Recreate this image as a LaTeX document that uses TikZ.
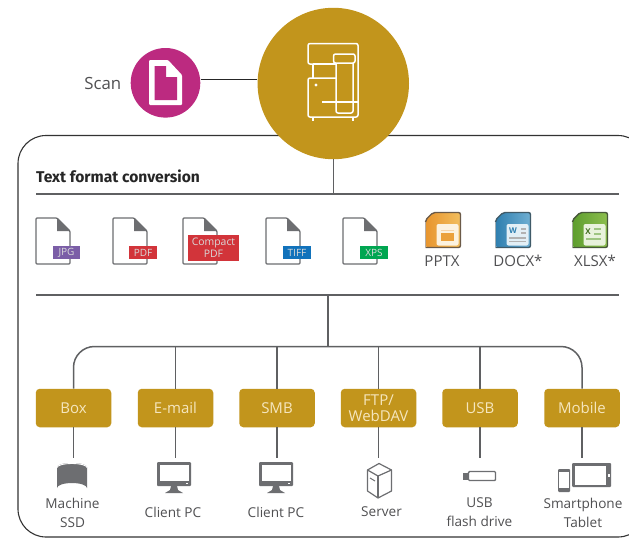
\documentclass[tikz,border=0pt]{standalone}
\usepackage{fontspec}
\setmainfont{Open Sans}
\newfontfamily\titlefont{Fira Sans}
\newcommand{\sv}{\vphantom{A}}
\definecolor{gold}{HTML}{C2951C}
\definecolor{magenta2}{HTML}{BC2A80}
\definecolor{cream}{HTML}{F5E6BE}
\definecolor{linegrey}{HTML}{5F6062}
\definecolor{icongrey}{HTML}{6D6E71}
\definecolor{txtgrey}{HTML}{505052}
\definecolor{tagpurple}{HTML}{7B5EA7}
\definecolor{tagred}{HTML}{D2343A}
\definecolor{tagblue}{HTML}{1172BB}
\definecolor{taggreen}{HTML}{00A651}
\definecolor{oa}{HTML}{E8952E}\definecolor{ob}{HTML}{F2BE5E}\definecolor{od}{HTML}{6B5A48}
\definecolor{ba}{HTML}{2F7FB0}\definecolor{bb}{HTML}{6FAFD2}\definecolor{bd}{HTML}{3F5A68}
\definecolor{ga}{HTML}{5E9E2E}\definecolor{gb}{HTML}{8CBE4E}\definecolor{gd}{HTML}{47583A}
\tikzset{
  conn/.style={draw=linegrey,line width=1.5pt},
  thinconn/.style={draw=black!85,line width=1pt},
  goldbox/.style={fill=gold,rounded corners=4pt,minimum width=75.5pt,minimum height=38.5pt,inner sep=0pt,align=center,text=cream,font=\fontsize{15}{16}\selectfont},
  lbl/.style={text=txtgrey,align=center,inner sep=0pt,font=\fontsize{13.6}{19}\selectfont},
  officelbl/.style={lbl,font=\fontsize{15}{18}\selectfont},
  tag/.style={inner sep=0pt,text=white!85!black,align=center,font=\fontsize{10}{11}\selectfont},
  whiteline/.style={draw=white,line width=1.5pt,rounded corners=2pt},
  fileicon/.pic={
    \draw[draw=icongrey,line width=1.3pt,fill=white,rounded corners=1pt,line join=round] (0,0) -- (21,0) -- (34,13) -- (34,46) -- (0,46) -- cycle;
    \fill[icongrey] (21,0) -- (34,13) -- (21,13) -- cycle;
  },
  monitor/.pic={
    \fill[icongrey,rounded corners=1pt] (0,0) rectangle (34,24);
    \fill[white] (2.5,2.5) rectangle (31.5,19);
    \fill[white] (29,21) rectangle (31,22.4);
    \fill[icongrey] (14,24) -- (20,24) -- (21,28) -- (26,31) -- (8,31) -- (13,28) -- cycle;
  },
  officeicon/.pic={
    \path[left color=tintA,right color=tintB,rounded corners=2pt] (8,0.5) -- (35.5,0.5) -- (35.5,35.5) -- (2,35.5) -- (0.5,34) -- (0.5,8) -- cycle;
    \draw[draw=tintD,line width=1.4pt,rounded corners=2pt] (0.5,10) -- (0.5,8) -- (8,0.5) -- (35.5,0.5) -- (35.5,35.5) -- (0.5,35.5);
    \draw[draw=tintD!50,line width=.8pt] (0.5,10) -- (0.5,35.5);
    \fill[white!80!tintB,rounded corners=2pt] (11.5,12) rectangle (33.5,33.5);
  },
}
\begin{document}
\begin{tikzpicture}[x=1pt,y=-1pt]
\useasboundingbox (0,0) rectangle (629,538);
\fill[white] (0,0) rectangle (629,538);
% outer frame
\begin{scope}
\clip (0,0) rectangle (629,538);
\draw[draw=black!80,line width=1.1pt,rounded corners=28pt] (18,135.5) rectangle (646,537);
\end{scope}
% section rules
\coordinate (r1a) at (36,194);
\coordinate (r1b) at (619,194);
\coordinate (r2a) at (36,295);
\coordinate (r2b) at (619,295);
\draw[conn] (r1a) -- (r1b);
\draw[conn] (r2a) -- (r2b);
% circles
\node[circle,fill=gold,minimum size=151.4pt,inner sep=0pt] (main) at (333.3,83.5) {};
\node[circle,fill=magenta2,minimum size=69.6pt,inner sep=0pt] (scan) at (165.5,82.8) {};
\node[lbl,anchor=east,font=\fontsize{16.8}{18}\selectfont] (scanlbl) at (121.5,83) {Scan};
\draw[thinconn] (scan.east |- 0,79.7) -- (main.west |- 0,79.7);
\draw[conn] (main.south) -- (main.south |- r1a);
% doc icon on magenta
\fill[white,rounded corners=1pt] (149,60) -- (168,60) -- (182,75) -- (182,105) -- (149,105) -- cycle;
\fill[magenta2] (154.5,66) -- (166,66) -- (166,77) -- (177,77) -- (177,100) -- (154.5,100) -- cycle;
% device icon
\begin{scope}[line width=1.4pt]
\draw[whiteline] (313,64) -- (308,64) -- (308,43.5) -- (358,43.5) -- (358,117) -- (308,117) -- (308,78) -- (336,78);
\draw[whiteline] (313,64) -- (336,64);
\draw[draw=white,line width=1.4pt] (313,64) -- (313,78);
\draw[whiteline] (336,63) -- (333.5,63) -- (333.5,54) -- (355,54) -- (355,63) -- (336,63);
\draw[whiteline] (336,63) -- (336,113) -- (353,113) -- (353,63);
\draw[draw=white,line width=1.4pt] (322,102) -- (358,102);
\draw[draw=white,line width=1.4pt] (313,117) -- (313,121);
\draw[draw=white,line width=1.4pt] (353,117) -- (353,121);
\fill[white] (316,85) circle (1.6);
\end{scope}
% heading
\node[anchor=west,inner sep=0pt,text=black!85,font=\titlefont\bfseries\fontsize{15.6}{18}\selectfont] (title) at (36,176) {Text format conversion};
% file icons
\pic at (36,218) {fileicon};
\pic at (113,218) {fileicon};
\pic at (183,218) {fileicon};
\pic at (266,218) {fileicon};
\pic at (343,218) {fileicon};
\node[tag,fill=tagpurple,minimum width=27pt,minimum height=13pt] (jpg) at (66.5,252.5) {JPG\sv};
\node[tag,fill=tagred,minimum width=28pt,minimum height=13pt] (pdf) at (143,252.5) {PDF\sv};
\node[tag,fill=tagred,minimum width=51.5pt,minimum height=26pt,font=\fontsize{10.4}{12}\selectfont] (cpdf) at (213.5,248) {Compact\\PDF};
\node[tag,fill=tagblue,minimum width=27.5pt,minimum height=13pt] (tiff) at (297,252.5) {TIFF\sv};
\node[tag,fill=taggreen,minimum width=28pt,minimum height=13pt] (xps) at (374,252.5) {XPS\sv};
% office icons
\colorlet{tintA}{oa}\colorlet{tintB}{ob}\colorlet{tintD}{od}
\pic at (425,212) {officeicon};
\fill[oa!70!ob] (441,233) rectangle (454,241);
\fill[white!60!oa] (441,229.5) rectangle (454,231);
\colorlet{tintA}{ba}\colorlet{tintB}{bb}\colorlet{tintD}{bd}
\pic at (495,212) {officeicon};
\node[inner sep=0pt,text=ba,font=\bfseries\fontsize{8}{8}\selectfont] (wglyph) at (513,231) {W};
\fill[black!30] (521,228) rectangle (526,230);
\fill[black!30] (521,232) rectangle (526,234);
\fill[black!30] (509,237) rectangle (526,238.5);
\fill[black!30] (509,240.5) rectangle (526,242);
\colorlet{tintA}{ga}\colorlet{tintB}{gb}\colorlet{tintD}{gd}
\pic at (572,212) {officeicon};
\node[inner sep=0pt,text=ga!70!black,font=\bfseries\fontsize{8}{8}\selectfont] (xglyph) at (588,232) {X};
\fill[ga!60] (594,228) rectangle (601,230);
\fill[ga!60] (594,233) rectangle (601,235);
\fill[ga!60] (586,238) rectangle (601,240);
% labels of office icons
\node[officelbl] (pptx) at (442,261) {PPTX};
\node[officelbl] (docx) at (518,261) {DOCX*};
\node[officelbl] (xlsx) at (595,261) {XLSX*};
% destination boxes
\node[goldbox] (b1) at (73.5,408) {Box\sv};
\node[goldbox] (b2) at (175.5,408) {E-mail\sv};
\node[goldbox] (b3) at (277,408) {SMB\sv};
\node[goldbox,font=\fontsize{15}{16}\selectfont] (b4) at (378.5,408) {FTP/\\WebDAV};
\node[goldbox] (b5) at (480,408) {USB\sv};
\node[goldbox] (b6) at (582,408) {Mobile\sv};
% tree
\coordinate (trunk) at (328,346.5);
\draw[conn] (trunk |- r2a) -- (trunk);
\draw[conn,rounded corners=21pt] (b1.north) -- (b1.north |- trunk) -- (b6.north |- trunk) -- (b6.north);
\foreach \n in {b2,b3,b4,b5}{\draw[conn] (\n.north) -- (\n.north |- trunk);}
% lower stubs
\foreach \n in {b1,b2,b3,b4,b5,b6}{\coordinate (\n t) at (\n.south |- 0,458);\draw[conn] (\n.south) -- (\n t);}
% SSD
\fill[icongrey] (57,467) -- (57,488) arc[start angle=180,end angle=360,x radius=15,y radius=5] -- (87,467) -- cycle;
\fill[icongrey] (72,467) ellipse (15 and 4);
\draw[white,line width=.9pt] (57,467.5) arc[start angle=180,end angle=360,x radius=15,y radius=4];
% monitors
\pic at (157,462) {monitor};
\pic at (259,462) {monitor};
% server
\draw[draw=icongrey,line width=1.2pt,line join=round,fill=white] (379,463.5) -- (391.5,470) -- (391.5,491) -- (378,498) -- (367.5,491) -- (367.5,470) -- cycle;
\draw[draw=icongrey,line width=1.2pt,line join=round] (367.5,470) -- (378,476) -- (391.5,470);
\draw[draw=icongrey,line width=1.2pt] (378,476) -- (378,498);
\draw[draw=icongrey,line width=1pt] (370,478) -- (375,481);
% usb
\fill[icongrey] (463,472.5) rectangle (468,480);
\draw[draw=icongrey,line width=1.4pt,rounded corners=1pt] (468.5,471.5) rectangle (495.5,480.5);
% tablet
\fill[icongrey,rounded corners=1pt] (572,463) rectangle (611,487);
\fill[white] (575,466) rectangle (606,484.5);
\fill[white] (607.5,474) rectangle (609.5,476.5);
% phone
\fill[icongrey,rounded corners=1pt] (558,469) rectangle (570,492);
\fill[white] (559.3,471.5) rectangle (568.7,488);
% bottom labels
\node[lbl] (l1) at (72.5,512.5) {Machine\\SSD};
\node[lbl] (l2) at (173,512) {Client PC};
\node[lbl] (l3) at (276,512) {Client PC};
\node[lbl] (l4) at (381.5,512) {Server};
\node[lbl] (l5) at (479.5,512.5) {USB\\flash drive};
\node[lbl] (l6) at (583,512.5) {Smartphone\\Tablet};
\end{tikzpicture}
\end{document}
